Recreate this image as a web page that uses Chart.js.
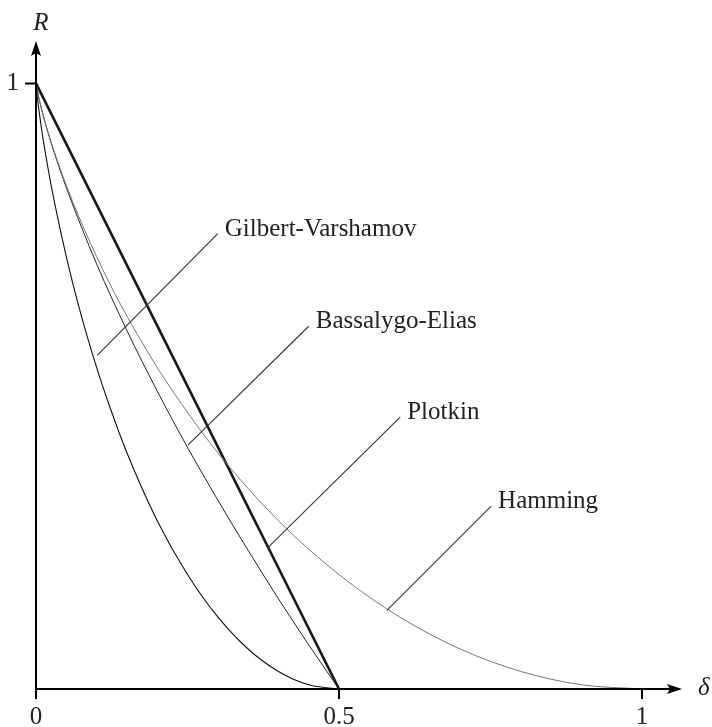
<!DOCTYPE html>
<html>
<head>
<meta charset="utf-8">
<script src="https://cdn.jsdelivr.net/npm/chart.js@4"></script>
<style>
  html, body { margin: 0; padding: 0; background: #fff; }
  #wrap { width: 712px; height: 727px; }
</style>
</head>
<body>
<div id="wrap"><canvas id="bounds"></canvas></div>
<script>
// values (delta, rate)
const gvDelta = [0, 0.002, 0.005, 0.01, 0.02, 0.03, 0.05, 0.07, 0.1, 0.12, 0.15, 0.2, 0.25, 0.3, 0.35, 0.4, 0.45, 0.5];
const gvRate  = [1, 0.979, 0.955, 0.919, 0.859, 0.806, 0.714, 0.634, 0.531, 0.471, 0.390, 0.278, 0.189, 0.119, 0.066, 0.029, 0.007, 0];

const hamDelta = [0, 0.004, 0.01, 0.02, 0.04, 0.06, 0.1, 0.14, 0.2, 0.24, 0.3, 0.4, 0.5, 0.6, 0.7, 0.8, 0.9, 1];
const hamRate  = [1, 0.979, 0.955, 0.919, 0.859, 0.806, 0.714, 0.634, 0.531, 0.471, 0.390, 0.278, 0.189, 0.119, 0.066, 0.029, 0.007, 0];

const eliasDelta = [0, 0.005, 0.01, 0.02, 0.03, 0.05, 0.1, 0.15, 0.2, 0.25, 0.3, 0.35, 0.4, 0.45, 0.48, 0.5];
const eliasRate  = [1, 0.975, 0.954, 0.918, 0.886, 0.828, 0.702, 0.592, 0.492, 0.399, 0.312, 0.229, 0.149, 0.073, 0.029, 0];

const plotkinDelta = [0, 0.5];
const plotkinRate  = [1, 0];

const xTicks = [0, 0.5, 1];
const xTickLabels = ['0', '0.5', '1'];
const yTicks = [1];
const yTickLabels = ['1'];

// curve labels: text, leader start (near text), leader end (on curve)
const labelNames = ['Gilbert-Varshamov', 'Bassalygo-Elias', 'Plotkin', 'Hamming'];
const leaderFrom = [[0.300, 0.752], [0.450, 0.599], [0.601, 0.449], [0.751, 0.302]];
const leaderTo   = [[0.101, 0.551], [0.251, 0.403], [0.383, 0.234], [0.579, 0.130]];

function pts(xs, ys) {
  return xs.map((x, i) => ({x: x, y: ys[i]}));
}

const FONT = '"Liberation Serif", "DejaVu Serif", serif';

const axesPlugin = {
  id: 'axesPlugin',
  afterDatasetsDraw(chart) {
    const ctx = chart.ctx;
    const xs = chart.scales.x, ys = chart.scales.y;
    const x0 = xs.getPixelForValue(0), y0 = ys.getPixelForValue(0);
    const xEnd = chart.chartArea.right, yEnd = chart.chartArea.top;
    ctx.save();
    ctx.strokeStyle = '#000';
    ctx.fillStyle = '#000';
    ctx.lineWidth = 2;
    // axes
    ctx.beginPath();
    ctx.moveTo(x0, y0); ctx.lineTo(xEnd - 10, y0);
    ctx.moveTo(x0, y0); ctx.lineTo(x0, yEnd + 10);
    ctx.stroke();
    // arrow heads
    ctx.beginPath();
    ctx.moveTo(xEnd, y0); ctx.lineTo(xEnd - 15, y0 - 5); ctx.lineTo(xEnd - 12, y0); ctx.lineTo(xEnd - 15, y0 + 5);
    ctx.closePath(); ctx.fill();
    ctx.beginPath();
    ctx.moveTo(x0, yEnd); ctx.lineTo(x0 - 5, yEnd + 15); ctx.lineTo(x0, yEnd + 12); ctx.lineTo(x0 + 5, yEnd + 15);
    ctx.closePath(); ctx.fill();
    // ticks
    ctx.beginPath();
    xTicks.forEach(v => {
      const px = xs.getPixelForValue(v);
      ctx.moveTo(px, y0 - 1); ctx.lineTo(px, y0 + 10);
    });
    yTicks.forEach(v => {
      const py = ys.getPixelForValue(v);
      ctx.moveTo(x0 + 1, py); ctx.lineTo(x0 - 11, py);
    });
    ctx.stroke();
    // tick labels
    ctx.fillStyle = '#222';
    ctx.font = '25px ' + FONT;
    ctx.textAlign = 'center';
    ctx.textBaseline = 'middle';
    xTicks.forEach((v, i) => {
      ctx.fillText(xTickLabels[i], xs.getPixelForValue(v), y0 + 28);
    });
    ctx.textAlign = 'right';
    yTicks.forEach((v, i) => {
      ctx.fillText(yTickLabels[i], x0 - 17, ys.getPixelForValue(v));
    });
    // axis names
    ctx.font = 'italic 25px ' + FONT;
    ctx.textAlign = 'center';
    ctx.fillText('R', x0 + 5, yEnd - 18);
    ctx.textAlign = 'left';
    ctx.fillText('\u03b4', xEnd + 16, y0 - 1);
    // leaders and curve names
    ctx.lineWidth = 1.1;
    ctx.strokeStyle = '#333';
    ctx.font = '25px ' + FONT;
    ctx.textAlign = 'left';
    ctx.textBaseline = 'alphabetic';
    labelNames.forEach((name, i) => {
      const fx = xs.getPixelForValue(leaderFrom[i][0]), fy = ys.getPixelForValue(leaderFrom[i][1]);
      const tx = xs.getPixelForValue(leaderTo[i][0]), ty = ys.getPixelForValue(leaderTo[i][1]);
      ctx.beginPath(); ctx.moveTo(fx, fy); ctx.lineTo(tx, ty); ctx.stroke();
      ctx.fillText(name, fx + 7, fy + 2);
    });
    ctx.restore();
  }
};

new Chart(document.getElementById('bounds'), {
  type: 'line',
  data: {
    datasets: [
      { label: 'Gilbert-Varshamov', data: pts(gvDelta, gvRate), borderColor: '#111', borderWidth: 1.1 },
      { label: 'Hamming', data: pts(hamDelta, hamRate), borderColor: '#777', borderWidth: 1 },
      { label: 'Bassalygo-Elias', data: pts(eliasDelta, eliasRate), borderColor: '#222', borderWidth: 1 },
      { label: 'Plotkin', data: pts(plotkinDelta, plotkinRate), borderColor: '#1a1a1a', borderWidth: 2.6 }
    ]
  },
  options: {
    responsive: true,
    maintainAspectRatio: false,
    animation: false,
    layout: { padding: { left: 36, right: 30, top: 41, bottom: 38 } },
    elements: {
      point: { radius: 0 },
      line: { cubicInterpolationMode: 'monotone', fill: false }
    },
    plugins: { legend: { display: false }, tooltip: { enabled: false } },
    scales: {
      x: { type: 'linear', min: 0, max: 1.066, display: false },
      y: { type: 'linear', min: 0, max: 1.07, display: false }
    }
  },
  plugins: [axesPlugin]
});
</script>
</body>
</html>
